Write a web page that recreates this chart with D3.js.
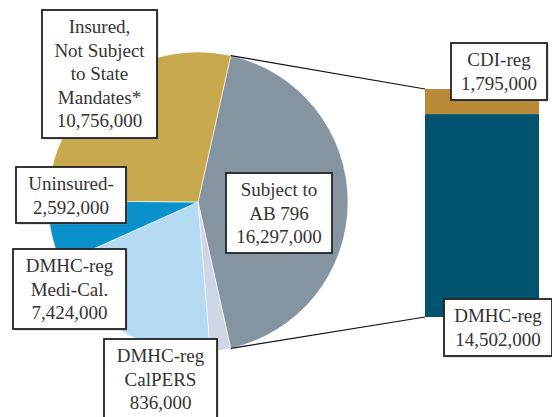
<!DOCTYPE html>
<html>
<head>
<meta charset="utf-8">
<script src="https://cdn.jsdelivr.net/npm/d3@7"></script>
<style>
  body { margin: 0; background: #fff; }
  svg { display: block; }
  text { font-family: "Liberation Serif", "DejaVu Serif", serif; fill: #333; }
</style>
</head>
<body>
<svg id="chart" width="552" height="417"></svg>
<script>
// pie slices, clockwise starting with the split slice
var pieNames = ["Subject to AB 796", "DMHC-reg CalPERS", "DMHC-reg Medi-Cal.", "Uninsured", "Insured, Not Subject to State Mandates*"];
var pieValues = [16297000, 836000, 7424000, 2592000, 10756000];
var pieColors = ["#8494a1", "#cfd7e6", "#b5dbf3", "#0a91cb", "#c9a94d"];

// bar breaking out the AB 796 slice (top to bottom)
var barNames = ["CDI-reg", "DMHC-reg"];
var barValues = [1795000, 14502000];
var barColors = ["#b98b39", "#00546f"];

// label text lines
var pieLabels = [
  ["Subject to", "AB 796", "16,297,000"],
  ["DMHC-reg", "CalPERS", "836,000"],
  ["DMHC-reg", "Medi-Cal.", "7,424,000"],
  ["Uninsured-", "2,592,000"],
  ["Insured,", "Not Subject", "to State", "Mandates*", "10,756,000"]
];
var barLabels = [["CDI-reg", "1,795,000"], ["DMHC-reg", "14,502,000"]];

// label box layout [x, y, w, h]
var pieBoxes = [[226, 173, 106, 80], [104, 339, 113, 84], [13, 249, 113, 80], [16, 167, 110, 56], [42, 10, 115, 128]];
var barBoxes = [[451, 43, 96, 57], [444, 299, 108, 57]];

var svg = d3.select("#chart");
var cx = 198, cy = 202, radius = 150;

var total = d3.sum(pieValues);
var splitAngle = 2 * Math.PI * pieValues[0] / total;
var start = Math.PI / 2 - splitAngle / 2;

var pie = d3.pie().sort(null).value(function(d) { return d; })
  .startAngle(start).endAngle(start + 2 * Math.PI);
var arcs = pie(pieValues);
var arc = d3.arc().innerRadius(0).outerRadius(radius);

var g = svg.append("g").attr("transform", "translate(" + cx + "," + cy + ")");
g.selectAll("path")
  .data(arcs)
  .enter()
  .append("path")
    .attr("d", arc)
    .attr("fill", function(d, i) { return pieColors[i]; })
    .attr("stroke", "#fff")
    .attr("stroke-width", 0.6);

// stacked bar
var barX = 425, barW = 114;
var y = d3.scaleLinear().domain([0, d3.sum(barValues)]).range([89, 317]);
var cum = 0;
var stack = barValues.map(function(v) { var s = { y0: cum, y1: cum + v }; cum += v; return s; });
svg.selectAll(".bar")
  .data(stack)
  .enter()
  .append("rect")
    .attr("class", "bar")
    .attr("x", barX)
    .attr("width", barW)
    .attr("y", function(d) { return y(d.y0); })
    .attr("height", function(d) { return y(d.y1) - y(d.y0); })
    .attr("fill", function(d, i) { return barColors[i]; });

// connector lines
function pt(a) { return [cx + radius * Math.sin(a), cy - radius * Math.cos(a)]; }
var pTop = pt(arcs[0].startAngle), pBot = pt(arcs[0].endAngle);
svg.append("line")
  .attr("x1", pTop[0]).attr("y1", pTop[1])
  .attr("x2", barX).attr("y2", y(0))
  .attr("stroke", "#111").attr("stroke-width", 1.2);
svg.append("line")
  .attr("x1", pBot[0]).attr("y1", pBot[1])
  .attr("x2", barX).attr("y2", y(d3.sum(barValues)))
  .attr("stroke", "#111").attr("stroke-width", 1.2);

// label boxes
function drawLabel(lines, box) {
  var lg = svg.append("g");
  lg.append("rect")
    .attr("x", box[0] + 1.5).attr("y", box[1] + 1.5)
    .attr("width", box[2]).attr("height", box[3])
    .attr("fill", "#999").attr("opacity", 0.5);
  lg.append("rect")
    .attr("x", box[0]).attr("y", box[1])
    .attr("width", box[2]).attr("height", box[3])
    .attr("fill", "#fff").attr("stroke", "#222").attr("stroke-width", 1.8);
  lg.selectAll("text")
    .data(lines)
    .enter()
    .append("text")
      .attr("x", box[0] + box[2] / 2)
      .attr("y", function(d, i) { return box[1] + 23 + i * 23.6; })
      .attr("text-anchor", "middle")
      .style("font-size", "19px")
      .text(function(d) { return d; });
}
pieLabels.forEach(function(l, i) { drawLabel(l, pieBoxes[i]); });
barLabels.forEach(function(l, i) { drawLabel(l, barBoxes[i]); });
</script>
</body>
</html>
